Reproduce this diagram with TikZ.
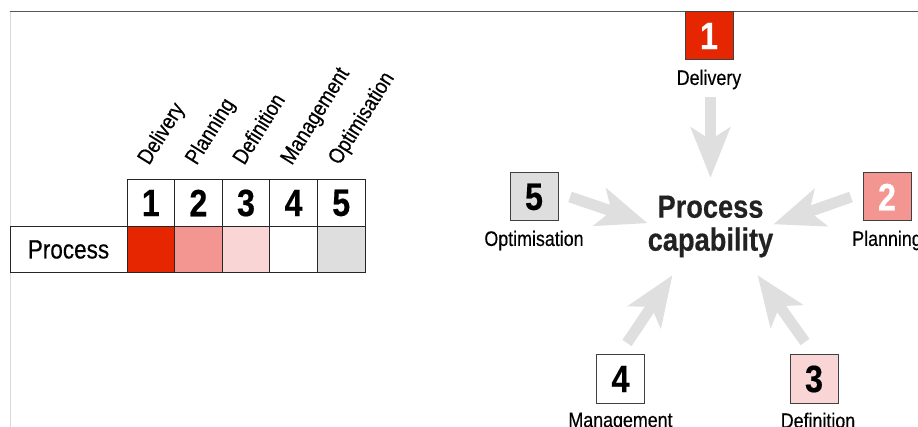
\documentclass[tikz,border=0pt]{standalone}
\usepackage{fontspec}
\setmainfont{Liberation Sans}
\newfontfamily\narrowfont[FakeStretch=0.85, FakeBold=0.4]{Liberation Sans}
\usetikzlibrary{arrows.meta, positioning}

\definecolor{levelred}{HTML}{E62600}
\definecolor{levelpink}{HTML}{F39591}
\definecolor{levellight}{HTML}{FAD5D5}
\definecolor{levelgray}{HTML}{DEDEDE}
\definecolor{arrowgray}{HTML}{DFDFDF}
\definecolor{inkdark}{HTML}{222222}

\begin{document}
\begin{tikzpicture}[
        x=1pt, y=-1pt,
        cell/.style={rectangle, draw=black!85, line width=0.9pt, outer sep=0pt, inner sep=0pt,
                     minimum width=47.6pt, minimum height=46.5pt, font=\narrowfont\fontsize{38}{38}\selectfont\bfseries},
        head/.style={rotate=58, anchor=base west, inner sep=0pt, font=\narrowfont\fontsize{22}{22}\selectfont},
        level/.style={rectangle, draw=black!75, line width=1pt, minimum size=48pt, inner sep=0pt,
                      font=\narrowfont\fontsize{38}{38}\selectfont\bfseries},
        levelname/.style={below=9pt of #1, inner sep=0pt, font=\narrowfont\fontsize{21}{21}\selectfont},
        bigarrow/.style={draw=arrowgray, line width=11pt, -{Stealth[length=50pt, width=39pt, inset=12pt]}}
    ]
        \useasboundingbox (0,0) rectangle (918,427);
        \clip (0,0) rectangle (918,427);

        % frame
        \draw[black!15, line width=1pt] (10,12) -- (10,427);
        \draw[black!65, line width=1pt] (10,12) -- (918,12);

        % table
        \node[cell] (h1) at (150.8,203) {1};
        \node[cell, right=0pt of h1] (h2) {2};
        \node[cell, right=0pt of h2] (h3) {3};
        \node[cell, right=0pt of h3] (h4) {4};
        \node[cell, right=0pt of h4] (h5) {5};

        \node[cell, fill=levelred, below=0pt of h1] (p1) {};
        \node[cell, fill=levelpink, right=0pt of p1] (p2) {};
        \node[cell, fill=levellight, right=0pt of p2] (p3) {};
        \node[cell, fill=white, right=0pt of p3] (p4) {};
        \node[cell, fill=levelgray, right=0pt of p4] (p5) {};
        \node[cell, fill=white, left=0pt of p1, minimum width=117pt,
              font=\narrowfont\fontsize{26.5}{26.5}\selectfont] (proc) {Process};

        \node[head] (n1) at (149,166) {Delivery};
        \node[head] (n2) at (196.6,166) {Planning};
        \node[head] (n3) at (244.2,166) {Definition};
        \node[head] (n4) at (291.8,166) {Management};
        \node[head] (n5) at (339.4,166) {Optimisation};

        % capability star
        \node[align=center, minimum width=125pt, minimum height=97pt, inner sep=0pt, text=inkdark,
              font=\narrowfont\fontsize{32}{33}\selectfont\bfseries] (cap) at (710.5,226.5) {Process\\capability};

        \node[level, fill=levelred, text=white] (b1) at (709,36) {1};
        \node[levelname=b1] (l1) {Delivery};
        \node[level, fill=levelpink, text=white] (b2) at (887,197) {2};
        \node[levelname=b2] (l2) {Planning};
        \node[level, fill=levellight] (b3) at (814,379) {3};
        \node[levelname=b3, xshift=4pt] (l3) {Definition};
        \node[level, fill=white] (b4) at (620.5,379) {4};
        \node[levelname=b4] (l4) {Management};
        \node[level, fill=levelgray] (b5) at (534,197) {5};
        \node[levelname=b5] (l5) {Optimisation};

        \coordinate (t1) at (710.5,97);
        \coordinate (t2) at (851,197);
        \coordinate (t3) at (805,342);
        \coordinate (t4) at (627,343);
        \coordinate (t5) at (570,197);

        \draw[bigarrow] (t1) -- (cap.90);
        \draw[bigarrow] (t2) -- (cap.2);
        \draw[bigarrow] (t3) -- (cap.314);
        \draw[bigarrow] (t4) -- (cap.232);
        \draw[bigarrow] (t5) -- (cap.177);
    \end{tikzpicture}
\end{document}
